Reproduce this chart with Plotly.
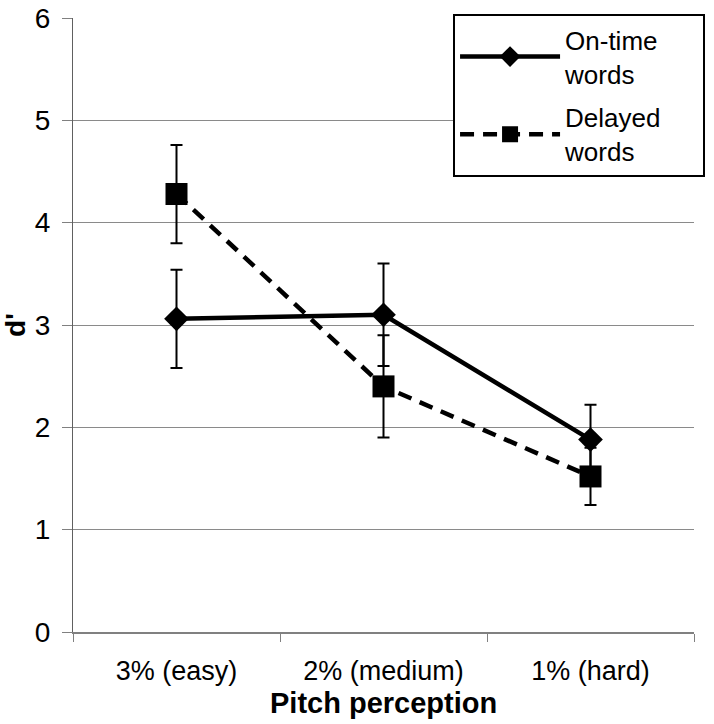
import plotly.graph_objects as go

categories = ["3% (easy)", "2% (medium)", "1% (hard)"]
ontime_values = [3.06, 3.10, 1.88]
ontime_errors = [0.48, 0.50, 0.34]
delayed_values = [4.28, 2.40, 1.52]
delayed_errors = [0.48, 0.50, 0.28]
y_ticks = [0, 1, 2, 3, 4, 5, 6]

FONT = "Liberation Sans, Arial, sans-serif"
PAD = "&nbsp;" * 5

fig = go.Figure()

fig.add_trace(go.Scatter(
    x=categories, y=ontime_values, name="On-time" + PAD + "<br>words",
    mode="lines+markers",
    line=dict(color="black", width=4.5),
    marker=dict(symbol="diamond", size=19, color="black"),
    error_y=dict(type="data", array=ontime_errors, visible=True,
                 color="black", thickness=2, width=6),
    legendgroup="a",
))
fig.add_trace(go.Scatter(
    x=categories, y=delayed_values, name="Delayed" + PAD + "<br>words",
    mode="lines+markers",
    line=dict(color="black", width=4.5, dash="14px,9px"),
    marker=dict(symbol="square", size=22, color="black"),
    error_y=dict(type="data", array=delayed_errors, visible=True,
                 color="black", thickness=2, width=6),
    legendgroup="b",
))

fig.update_layout(
    width=714, height=724,
    margin=dict(l=73, r=20, t=18, b=92, autoexpand=False),
    paper_bgcolor="white", plot_bgcolor="white",
    font=dict(family=FONT, color="black", size=26),
    showlegend=True,
    legend=dict(
        x=0.612, y=1.006, xanchor="left", yanchor="top",
        bordercolor="black", borderwidth=2, bgcolor="white",
        font=dict(family=FONT, size=26, color="black"),
        tracegroupgap=7, itemwidth=100,
    ),
    xaxis=dict(
        type="category",
        range=[-0.5, 2.5],
        tickson="boundaries",
        ticks="outside", ticklen=8, tickcolor="#808080",
        showline=True, linecolor="#808080", linewidth=1.5,
        showgrid=False,
        tickfont=dict(size=27),
        ticklabelstandoff=14,
        automargin=False,
        fixedrange=True,
    ),
    yaxis=dict(
        range=[0, 6], tickvals=y_ticks,
        ticks="outside", ticklen=10, tickcolor="#808080",
        showline=True, linecolor="#606060", linewidth=1.2,
        showgrid=True, gridcolor="#8a8a8a", gridwidth=1,
        zeroline=False,
        tickfont=dict(size=28),
        ticklabelstandoff=6,
        automargin=False,
        title=dict(text="<b>d'</b>", font=dict(size=28), standoff=2),
    ),
    annotations=[dict(
        text="<b>Pitch perception</b>", xref="paper", yref="paper",
        x=0.5, y=-0.116, xanchor="center", yanchor="middle",
        showarrow=False, font=dict(size=29, family=FONT, color="black"),
    )],
)

fig.write_html(
    "out.html",
    config={"displayModeBar": False},
    post_script="document.body.style.margin='0';document.body.style.overflow='hidden';",
)
